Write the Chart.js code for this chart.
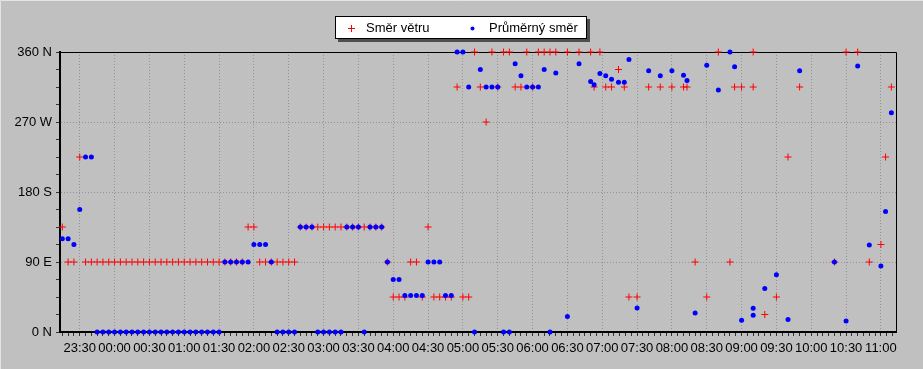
<!DOCTYPE html>
<html>
<head>
<meta charset="utf-8">
<script src="https://cdn.jsdelivr.net/npm/chart.js@4.4.0/dist/chart.umd.min.js"></script>
<style>
  html, body { margin: 0; padding: 0; background: #c0c0c0; }
  canvas { display: block; }
</style>
</head>
<body>
<canvas id="windChart" width="923" height="369"></canvas>
<script>
// measurement times (HH:MM, the night runs from 23:15 to 11:09)
const times = [
  '23:15', '23:20', '23:25', '23:30', '23:35', '23:40', '23:45', '23:50', '23:55',
  '00:00', '00:05', '00:10', '00:15', '00:20', '00:25', '00:30', '00:35', '00:40', '00:45', '00:50', '00:55',
  '01:00', '01:05', '01:10', '01:15', '01:20', '01:25', '01:30', '01:35', '01:40', '01:45', '01:50', '01:55',
  '02:00', '02:05', '02:10', '02:15', '02:20', '02:25', '02:30', '02:35', '02:40', '02:45', '02:50', '02:55',
  '03:00', '03:05', '03:10', '03:15', '03:20', '03:25', '03:30', '03:35', '03:40', '03:45', '03:50', '03:55',
  '04:00', '04:05', '04:10', '04:15', '04:20', '04:25', '04:30', '04:35', '04:40', '04:45', '04:50', '04:55',
  '05:00', '05:05', '05:10', '05:15', '05:20', '05:25', '05:30', '05:35', '05:40', '05:45', '05:50', '05:55',
  '06:00', '06:05', '06:10', '06:15', '06:20', '06:30', '06:40', '06:50', '06:53', '06:58',
  '07:03', '07:08', '07:14', '07:19', '07:23', '07:30', '07:40', '07:50',
  '08:00', '08:10', '08:13', '08:20', '08:30', '08:40', '08:50', '08:54',
  '09:00', '09:10', '09:10', '09:20', '09:30', '09:40', '09:50',
  '10:20', '10:30', '10:40', '10:50', '11:00', '11:04', '11:09'
];

// wind direction (degrees)
const windDir = [
  135, 90, 90, 225, 90, 90, 90, 90, 90,
  90, 90, 90, 90, 90, 90, 90, 90, 90, 90, 90, 90,
  90, 90, 90, 90, 90, 90, 90, 90, 90, 90, 90, 135,
  135, 90, 90, 90, 90, 90, 90, 90, 135, 135, 135, 135,
  135, 135, 135, 135, 135, 135, 135, 135, 135, 135, 135, 90,
  45, 45, 45, 90, 90, 45, 135, 45, 45, 45, 45, 315,
  45, 45, 360, 315, 270, 360, 315, 360, 360, 315, 315, 360,
  315, 360, 360, 360, 360, 360, 360, 360, 315, 360,
  315, 315, 337.5, 315, 45, 45, 315, 315,
  315, 315, 315, 90, 45, 360, 90, 315,
  315, 360, 315, 22.5, 45, 225, 315,
  90, 360, 360, 90, 112.5, 225, 315
];

// average direction (degrees)
const avgDir = [
  120, 120, 112.5, 157.5, 225, 225, 0, 0, 0,
  0, 0, 0, 0, 0, 0, 0, 0, 0, 0, 0, 0,
  0, 0, 0, 0, 0, 0, 0, 90, 90, 90, 90, 90,
  112.5, 112.5, 112.5, 90, 0, 0, 0, 0, 135, 135, 135, 0,
  0, 0, 0, 0, 135, 135, 135, 0, 135, 135, 135, 90,
  67.5, 67.5, 47, 47, 47, 47, 90, 90, 90, 47, 47, 360,
  360, 315, 0, 337.5, 315, 315, 315, 0, 0, 345, 329.5, 315,
  315, 315, 337.5, 0, 333, 20, 345, 322, 318, 332.5,
  329.5, 325, 321, 321, 350.5, 31, 336, 329.5,
  336, 330, 323.5, 24.5, 343, 311, 360, 341,
  15, 30.5, 21.5, 56, 73.5, 16, 336,
  90, 14, 342, 112, 85, 155, 282
];

const seriesNames = ['Směr větru', 'Průměrný směr'];
const yTickLabels = { 0: '0 N', 90: '90 E', 180: '180 S', 270: '270 W', 360: '360 N' };

// minutes relative to midnight, evening hours are negative
function toMinutes(t) {
  const [h, m] = t.split(':').map(Number);
  const v = h * 60 + m;
  return h >= 12 ? v - 1440 : v;
}

function fmtTime(v) {
  const m = ((v % 1440) + 1440) % 1440;
  const h = Math.floor(m / 60);
  const mm = m % 60;
  return String(h).padStart(2, '0') + ':' + String(mm).padStart(2, '0');
}

const FONT = "'Liberation Sans', Arial, sans-serif";
const xMin = -47, xMax = 673;

// frame lines on top / right and the boxed legend
const framePlugin = {
  id: 'frame',
  beforeDraw(chart) {
    const ctx = chart.ctx;
    ctx.save();
    ctx.fillStyle = '#c0c0c0';
    ctx.fillRect(0, 0, chart.width, chart.height);
    ctx.strokeStyle = '#e4e4e4';
    ctx.lineWidth = 1;
    ctx.beginPath();
    ctx.moveTo(0.5, chart.height);
    ctx.lineTo(0.5, 0.5);
    ctx.lineTo(chart.width, 0.5);
    ctx.stroke();
    ctx.restore();
  },
  beforeDatasetsDraw(chart) {
    const { ctx, chartArea: a } = chart;
    ctx.save();
    ctx.strokeStyle = '#000';
    ctx.lineWidth = 1;
    ctx.beginPath();
    ctx.moveTo(a.left, a.top + 0.5);
    ctx.lineTo(a.right + 0.5, a.top + 0.5);
    ctx.lineTo(a.right + 0.5, a.bottom);
    ctx.stroke();
    ctx.restore();
  },
  afterDraw(chart) {
    const ctx = chart.ctx;
    const bx = 335, by = 16, bw = 252, bh = 23;
    ctx.save();
    ctx.fillStyle = 'rgba(40,40,40,0.75)';
    ctx.fillRect(bx + 3, by + 3, bw, bh);
    ctx.fillStyle = '#fff';
    ctx.fillRect(bx, by, bw, bh);
    ctx.strokeStyle = '#000';
    ctx.lineWidth = 1;
    ctx.strokeRect(bx + 0.5, by + 0.5, bw - 1, bh - 1);
    // red cross
    ctx.strokeStyle = '#ff0000';
    ctx.beginPath();
    ctx.moveTo(348, 28.5); ctx.lineTo(355, 28.5);
    ctx.moveTo(351.5, 25); ctx.lineTo(351.5, 32);
    ctx.stroke();
    // blue dot
    ctx.fillStyle = '#0000ff';
    ctx.beginPath();
    ctx.arc(472.5, 28.5, 2, 0, Math.PI * 2);
    ctx.fill();
    ctx.fillStyle = '#000';
    ctx.font = '13px ' + FONT;
    ctx.textBaseline = 'middle';
    ctx.fillText(seriesNames[0], 366, 28);
    ctx.fillText(seriesNames[1], 489, 28);
    ctx.restore();
  }
};

new Chart(document.getElementById('windChart'), {
  type: 'scatter',
  data: {
    datasets: [
      {
        label: seriesNames[0],
        data: times.map((t, i) => ({ x: toMinutes(t), y: windDir[i] })),
        pointStyle: 'cross',
        pointRadius: 3.5,
        borderWidth: 1,
        borderColor: '#ff0000',
        backgroundColor: '#ff0000',
        clip: false,
        order: 1
      },
      {
        label: seriesNames[1],
        data: times.map((t, i) => ({ x: toMinutes(t), y: avgDir[i] })),
        pointStyle: 'circle',
        pointRadius: 2.5,
        borderWidth: 0,
        backgroundColor: '#0000ff',
        clip: false,
        order: 0
      }
    ]
  },
  options: {
    responsive: false,
    animation: false,
    events: [],
    layout: { padding: { top: 52, right: 27, bottom: 0, left: 0 } },
    plugins: {
      legend: { display: false },
      tooltip: { enabled: false }
    },
    scales: {
      x: {
        type: 'linear',
        min: xMin,
        max: xMax,
        afterFit: s => { s.height = 37; },
        afterBuildTicks: s => {
          const ticks = [];
          for (let v = -45; v <= 670; v += 5) ticks.push({ value: v });
          s.ticks = ticks;
        },
        ticks: {
          autoSkip: false,
          maxRotation: 0,
          minRotation: 0,
          padding: 5,
          color: '#000',
          font: { family: FONT, size: 13 },
          callback: v => (v % 30 === 0 ? fmtTime(v) : '')
        },
        grid: {
          color: c => (c.tick && c.tick.value % 30 === 0 ? '#939393' : 'rgba(0,0,0,0)'),
          lineWidth: 1,
          tickLength: 4,
          tickColor: '#333'
        },
        border: { color: '#000', width: 2, dash: [1, 2] }
      },
      y: {
        min: 0,
        max: 360,
        afterFit: s => { s.width = 60; },
        afterBuildTicks: s => {
          const ticks = [];
          for (let v = 0; v <= 360; v += 22.5) ticks.push({ value: v });
          s.ticks = ticks;
        },
        ticks: {
          autoSkip: false,
          padding: 4,
          color: '#000',
          font: { family: FONT, size: 13 },
          callback: v => yTickLabels[v] || ''
        },
        grid: {
          color: c => (c.tick && c.tick.value % 90 === 0 ? '#939393' : 'rgba(0,0,0,0)'),
          lineWidth: 1,
          tickLength: 4,
          tickColor: '#333'
        },
        border: { color: '#000', width: 2, dash: [1, 2] }
      }
    }
  },
  plugins: [framePlugin]
});
</script>
</body>
</html>
